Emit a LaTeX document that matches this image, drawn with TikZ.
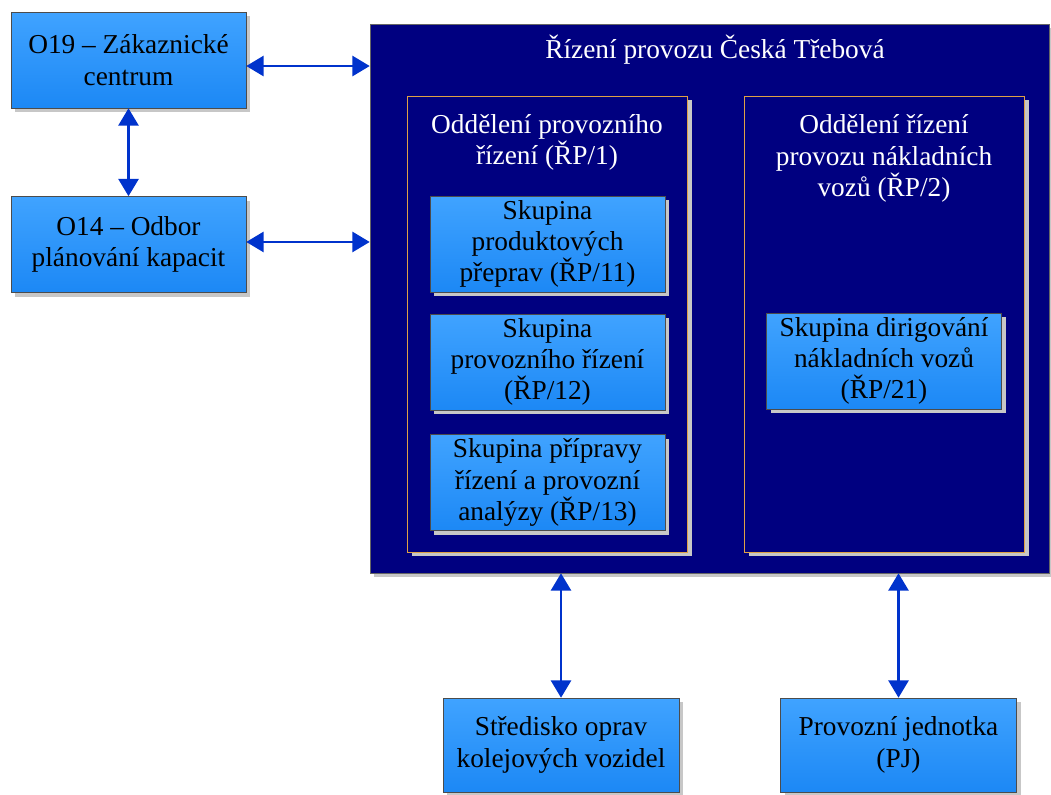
\documentclass[tikz,border=0pt]{standalone}
\usepackage{fontspec}
\setmainfont{Liberation Serif}
\usetikzlibrary{arrows.meta,shadows}
\definecolor{navy}{RGB}{0,0,128}
\definecolor{arrowblue}{RGB}{0,51,204}
\definecolor{boxtop}{RGB}{64,163,255}
\definecolor{boxbot}{RGB}{28,136,245}
\definecolor{deptframe}{RGB}{222,160,70}

\begin{document}
\begin{tikzpicture}[x=0.75pt,y=-0.75pt,
  every node/.style={font=\fontsize{20.5}{23.5}\selectfont,align=center},
  shade/.style={drop shadow={shadow xshift=3pt,shadow yshift=-3pt,fill=black!22,opacity=1}},
  unit/.style={draw=black!70,top color=boxtop,bottom color=boxbot,minimum width=176.25pt,minimum height=72pt,inner sep=0pt,shade},
  dept/.style={draw=deptframe,fill=navy,minimum width=210pt,minimum height=342pt,inner sep=0pt,shade},
  link/.style={arrowblue,line width=2pt,{Triangle[length=13pt,width=15pt]}-{Triangle[length=13pt,width=15pt]}}]
  \useasboundingbox (0,0) rectangle (1051,794);
  \node[draw=black!60,fill=navy,minimum width=509.25pt,minimum height=411.75pt,inner sep=0pt,shade] (rizeni) at (709.5,298.5) {};
  \node[text=white] (title) at (715,50) {Řízení provozu Česká Třebová};
  \node[dept] (rp1) at (547.5,324) {};
  \node[dept] (rp2) at (884.5,324) {};
  \node[text=white] (rp1t) at (547,142.5) {Oddělení provozního\\řízení (ŘP/1)};
  \node[text=white] (rp2t) at (884,158.5) {Oddělení řízení\\provozu nákladních\\vozů (ŘP/2)};
  \node[unit] (rp11) at (547.5,244) {Skupina\\produktových\\přeprav (ŘP/11)};
  \node[unit] (rp12) at (547.5,362) {Skupina\\provozního řízení\\(ŘP/12)};
  \node[unit] (rp13) at (547.5,482.5) {Skupina přípravy\\řízení a provozní\\analýzy (ŘP/13)};
  \node[unit] (rp21) at (884,361) {Skupina dirigování\\nákladních vozů\\(ŘP/21)};
  \node[unit] (o19) at (128.5,60) {O19 -- Zákaznické\\centrum};
  \node[unit] (o14) at (128.5,244.5) {O14 -- Odbor\\plánování kapacit};
  \node[unit,minimum width=177pt,minimum height=70.5pt] (sokv) at (561,745) {Středisko oprav\\kolejových vozidel};
  \node[unit,minimum width=177pt,minimum height=70.5pt] (pj) at (898.5,745) {Provozní jednotka\\(PJ)};
  \draw[link] ([yshift=-4.5pt]o19.east) -- ([yshift=-4.5pt]o19.east -| rizeni.west);
  \draw[link] ([yshift=1.9pt]o14.east) -- ([yshift=1.9pt]o14.east -| rizeni.west);
  \draw[link] (o19) -- (o14);
  \draw[link] (sokv) -- (sokv |- rizeni.south);
  \draw[link] (pj) -- (pj |- rizeni.south);
\end{tikzpicture}
\end{document}
